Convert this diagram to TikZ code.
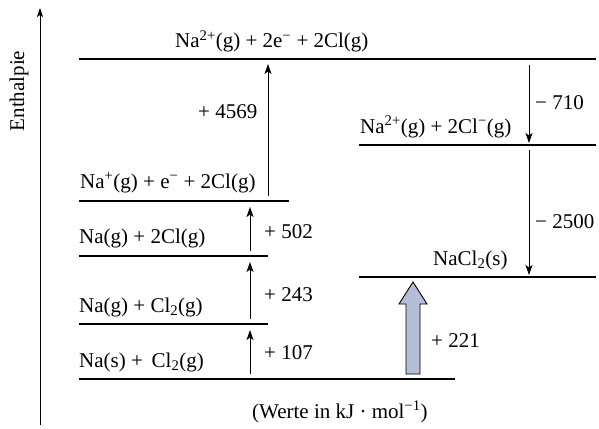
\documentclass[tikz,border=0pt]{standalone}
\usepackage{fontspec}
\setmainfont{Liberation Serif}
\usetikzlibrary{arrows.meta}
\definecolor{arrowfill}{RGB}{180,190,214}
\begin{document}
\begin{tikzpicture}[x=1pt,y=-1pt,
  lvl/.style={line width=2.2pt},
  axis/.style={line width=0.9pt,-{Stealth[length=9pt,width=6pt,inset=2pt]}},
  ar/.style={line width=1pt,-{Stealth[length=10pt,width=7pt,inset=2.5pt]}},
  lab/.style={font=\fontsize{21}{24}\selectfont, inner sep=0pt, anchor=base west},
  val/.style={font=\fontsize{21}{24}\selectfont, inner sep=0pt, anchor=base west}]
\useasboundingbox (0,0) rectangle (599,428);
% axis
\coordinate (ax0) at (40,425);
\coordinate (ax1) at (40,8);
\draw[axis] (ax0) -- (ax1);
\node[font=\fontsize{21}{24}\selectfont, rotate=90, inner sep=0pt] (enth) at (19,91) {Enthalpie};
% levels
\coordinate (L6a) at (79,59);  \coordinate (L6b) at (596,59);
\coordinate (L5a) at (359,145); \coordinate (L5b) at (596,145);
\coordinate (L4a) at (79,201); \coordinate (L4b) at (289,201);
\coordinate (L3a) at (79,256); \coordinate (L3b) at (268,256);
\coordinate (L2a) at (79,324); \coordinate (L2b) at (268,324);
\coordinate (L1a) at (79,379); \coordinate (L1b) at (455,379);
\coordinate (L7a) at (359,277); \coordinate (L7b) at (596,277);
\foreach \l in {1,...,7} { \draw[lvl] (L\l a) -- (L\l b); }
% level labels
\node[lab] (t6) at (175,48) {Na\textsuperscript{2+}(g) + 2e\textsuperscript{−} + 2Cl(g)};
\node[lab] (t5) at (360,133) {Na\textsuperscript{2+}(g) + 2Cl\textsuperscript{−}(g)};
\node[lab] (t4) at (80,188) {Na\textsuperscript{+}(g) + e\textsuperscript{−} + 2Cl(g)};
\node[lab] (t3) at (79,243) {Na(g) + 2Cl(g)};
\node[lab] (t2) at (79,312) {Na(g) + Cl\textsubscript{2}(g)};
\node[lab] (t1) at (79,367) {Na(s) +\, Cl\textsubscript{2}(g)};
\node[lab] (t7) at (433,265) {NaCl\textsubscript{2}(s)};
% arrows
\coordinate (a1s) at (250,374); \coordinate (a1e) at (250,330);
\coordinate (a2s) at (250,319); \coordinate (a2e) at (250,262);
\coordinate (a3s) at (250,251); \coordinate (a3e) at (250,207);
\coordinate (a4s) at (268,196); \coordinate (a4e) at (268,64);
\coordinate (a5s) at (529,65);  \coordinate (a5e) at (529,143);
\coordinate (a6s) at (529,150); \coordinate (a6e) at (529,275);
\draw[ar] (a1s) -- (a1e);
\draw[ar] (a2s) -- (a2e);
\draw[ar] (a3s) -- (a3e);
\draw[ar] (a4s) -- (a4e);
\draw[ar] (a5s) -- (a5e);
\draw[ar] (a6s) -- (a6e);
% big arrow
\draw[fill=arrowfill, line width=0.9pt, line join=miter]
  (406,374) -- (406,304) -- (399,304) -- (413,282) -- (427,304) -- (420,304) -- (420,374) -- cycle;
% values
\node[val] (v4569) at (198,118) {+ 4569};
\node[val] (v710) at (535,109) {− 710};
\node[val] (v2500) at (535,228) {− 2500};
\node[val] (v502) at (264,238) {+ 502};
\node[val] (v243) at (264,301) {+ 243};
\node[val] (v107) at (264,359) {+ 107};
\node[val] (v221) at (431,347) {+ 221};
\node[val] (unit) at (252,418) {(Werte in kJ · mol\textsuperscript{−1})};
\end{tikzpicture}
\end{document}
